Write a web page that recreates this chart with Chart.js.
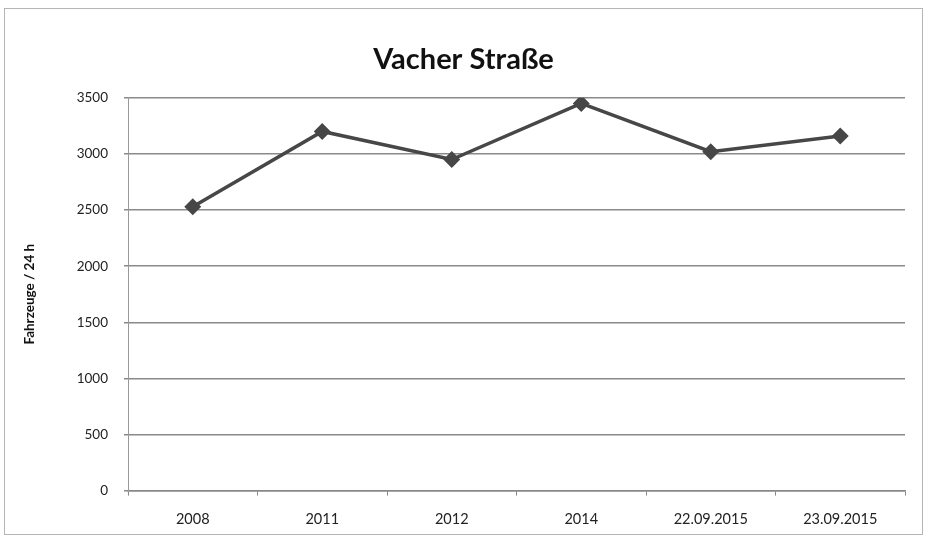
<!DOCTYPE html>
<html lang="de">

<head>
    <meta charset="UTF-8">
    <title>Vacher Straße</title>
    <script src="https://cdn.jsdelivr.net/npm/chart.js"></script>
    <style>
        body { margin: 0; background: #fff; }
        #wrap { width: 930px; height: 544px; }
    </style>
</head>

<body>
    <div id="wrap"><canvas id="chart" width="930" height="544"></canvas></div>
    <script>
        const categories = ["2008", "2011", "2012", "2014", "22.09.2015", "23.09.2015"];
        const vehicles = [2530, 3200, 2950, 3450, 3020, 3160];
        const yMin = 0, yMax = 3500, yStep = 500;

        // thin frame round the whole chart, like the Excel chart box
        const frame = {
            id: "frame",
            afterDraw(chart) {
                const c = chart.ctx;
                c.save();
                c.strokeStyle = "#b5b5b5";
                c.lineWidth = 1;
                c.strokeRect(4.5, 8.5, 918, 526);
                c.restore();
            }
        };

        Chart.defaults.font.family = "Lato, 'DejaVu Sans', sans-serif";
        Chart.defaults.color = "#222";

        new Chart(document.getElementById("chart"), {
            type: "line",
            data: {
                labels: categories,
                datasets: [{
                    label: "Fahrzeuge / 24 h",
                    data: vehicles,
                    borderColor: "#474747",
                    backgroundColor: "#474747",
                    borderWidth: 3.5,
                    pointStyle: "rectRot",
                    pointRadius: 6,
                    pointHoverRadius: 6,
                    tension: 0
                }]
            },
            options: {
                responsive: false,
                animation: false,
                layout: { padding: { top: 42, right: 25, bottom: 1, left: 22 } },
                plugins: {
                    legend: { display: false },
                    tooltip: { enabled: false },
                    title: {
                        display: true,
                        text: "Vacher Straße",
                        color: "#111",
                        font: { size: 29, weight: "bold" },
                        padding: { top: 0, bottom: 21 }
                    }
                },
                scales: {
                    x: {
                        offset: true,
                        grid: { display: true, drawOnChartArea: false, drawTicks: true, tickLength: 5, color: "#888", offset: true },
                        border: { color: "#888", width: 1.5 },
                        ticks: { font: { size: 14.5 }, color: "#222", padding: 15, maxRotation: 0 }
                    },
                    y: {
                        min: yMin,
                        max: yMax,
                        afterFit(scale) { scale.width = 106; },
                        ticks: { stepSize: yStep, format: { useGrouping: false }, font: { size: 13.5 }, color: "#222", padding: 16 },
                        grid: { color: "#8a8a8a", lineWidth: 1.5, tickLength: 4 },
                        border: { color: "#999", width: 1 },
                        title: {
                            display: true,
                            text: "Fahrzeuge / 24 h",
                            color: "#111",
                            font: { size: 13.5, weight: "bold" },
                            padding: { top: 0, bottom: 0 }
                        }
                    }
                }
            },
            plugins: [frame]
        });
    </script>
</body>

</html>
